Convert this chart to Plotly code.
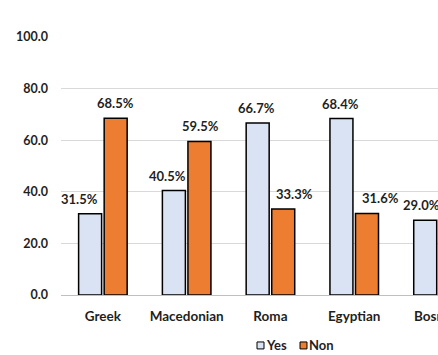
import plotly.graph_objects as go

categories = ["Greek", "Macedonian", "Roma", "Egyptian", "Bosnian"]
yes_values = [31.5, 40.5, 66.7, 68.4, 29.0]
non_values = [68.5, 59.5, 33.3, 31.6, None]
y_ticks = [0, 20, 40, 60, 80, 100]

# horizontal nudges (px) of the value labels, relative to the category centre
yes_label_dx = [-23, -19.5, -14, -14, -17]
non_label_dx = [13, 13.5, 24, 26, 0]

FONT = "Lato"
TXT = "#1F1F1F"
YES_COLOR = "#DAE3F3"
NON_COLOR = "#ED7D31"

fig = go.Figure()
fig.add_trace(go.Bar(
    name="Yes", x=categories, y=yes_values,
    marker=dict(color=YES_COLOR, line=dict(color="#000000", width=1.5)),
))
fig.add_trace(go.Bar(
    name="Non", x=categories, y=non_values,
    marker=dict(color=NON_COLOR, line=dict(color="#000000", width=1.5)),
))

# value labels
for vals, dxs in ((yes_values, yes_label_dx), (non_values, non_label_dx)):
    for cat, v, dx in zip(categories, vals, dxs):
        if v is None:
            continue
        fig.add_annotation(
            x=cat, y=v, xref="x", yref="y", text=f"{v:.1f}%",
            showarrow=False, xanchor="center", yanchor="middle",
            xshift=dx, yshift=15,
            font=dict(family=FONT, size=13, color=TXT, weight="bold"),
        )

# legend (compact, Excel-like)
legend_items = [("Yes", YES_COLOR, 0.5199, 0.5385), ("Non", NON_COLOR, 0.634, 0.6525)]
for name, color, x0, x1 in legend_items:
    fig.add_shape(type="rect", xref="paper", yref="paper", x0=x0, x1=x1,
                  y0=-0.209, y1=-0.182, fillcolor=color,
                  line=dict(color="#000000", width=1))
    fig.add_annotation(x=x1 + 0.001, y=-0.1955, xref="paper", yref="paper",
                       text=name, showarrow=False, xanchor="left", yanchor="middle",
                       font=dict(family=FONT, size=13, color=TXT, weight="bold"))

fig.update_layout(
    width=438, height=355,
    margin=dict(l=61, r=0, t=37, b=60, autoexpand=False),
    paper_bgcolor="white", plot_bgcolor="white",
    barmode="group", bargap=0.39, bargroupgap=0.1,
    font=dict(family=FONT, size=12, color=TXT),
    showlegend=False,
)
fig.update_xaxes(range=[-0.5, 4.0], showgrid=False, showline=False, ticks="",
                 automargin=False, ticklabelstandoff=11,
                 tickfont=dict(family=FONT, size=13.5, color=TXT, weight="bold"))
fig.update_yaxes(range=[0, 100], tickvals=y_ticks, tickformat=".1f",
                 showgrid=True, gridcolor="#D9D9D9", gridwidth=1,
                 zeroline=True, zerolinecolor="#BFBFBF", zerolinewidth=1,
                 showline=False, ticks="", ticklabelstandoff=12, automargin=False,
                 tickfont=dict(family=FONT, size=12.5, color=TXT, weight="bold"))

fig.write_html("out.html")
